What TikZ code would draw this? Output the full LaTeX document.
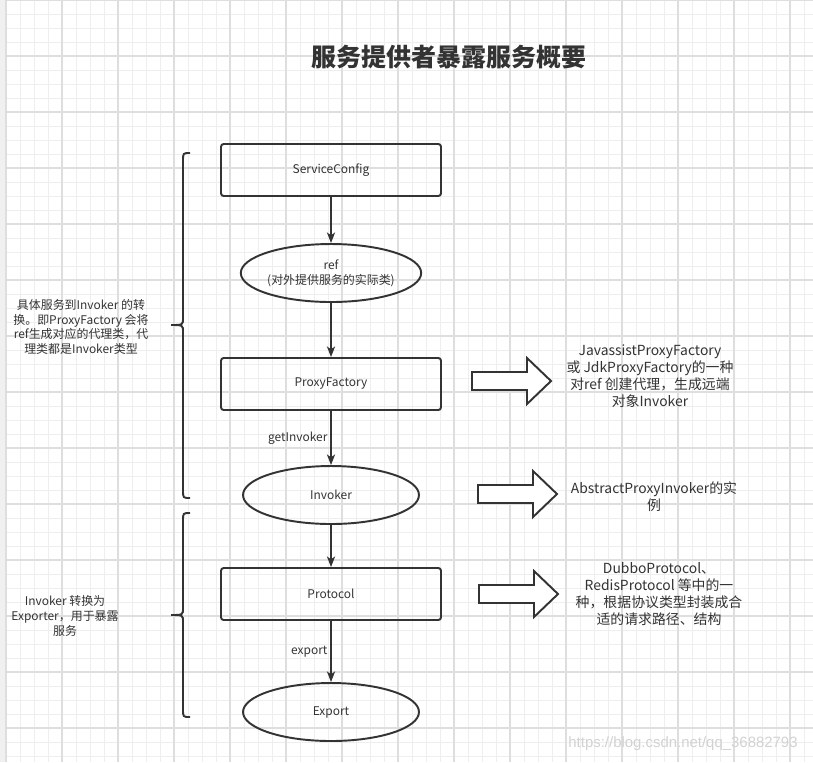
\documentclass[tikz,border=0pt]{standalone}
\usepackage{fontspec}
\setmainfont{Noto Sans CJK SC}
\newfontfamily\wmfont{Liberation Sans}
\usetikzlibrary{shapes.geometric,arrows.meta}
\definecolor{ink}{HTML}{333333}
\definecolor{gridminor}{HTML}{EEEEEE}
\definecolor{gridmajor}{HTML}{DEDEDE}
\definecolor{sidebar}{HTML}{F0F0F0}
\definecolor{wmgray}{HTML}{D2D2D2}
\tikzset{
  stage/.style={draw=ink, line width=1.1pt, rounded corners=1.5pt, minimum width=4.4cm,
    minimum height=1.04cm, text=ink, font=\fontsize{6.8}{8}\selectfont},
  obj/.style={ellipse, draw=ink, line width=1.1pt, minimum width=3.52cm, minimum height=1.16cm,
    inner sep=0pt, align=center, text=ink, font=\fontsize{6.8}{8.4}\selectfont},
  flow/.style={draw=ink, line width=1.1pt, -{Stealth[length=6pt,width=4.6pt,inset=1.6pt]}},
  flowlabel/.style={left, inner sep=1.5pt, text=ink, font=\fontsize{6.8}{8}\selectfont},
  brace/.style={draw=ink, line width=1.1pt},
  fatarrow/.style={draw=ink, line width=1.1pt, fill=white, line join=miter},
  note/.style={align=center, text=ink, font=\fontsize{7.9}{9.6}\selectfont},
  sidenote/.style={align=center, text=ink, font=\fontsize{6.8}{8.4}\selectfont}
}

\begin{document}
\begin{tikzpicture}[x=0.02cm, y=-0.02cm]
    \useasboundingbox (0,0) rectangle (813,762);
    % background grid
    \fill[white] (0,0) rectangle (813,762);
    \fill[sidebar] (0,0) rectangle (6,762);
    \foreach \k in {0,...,57} {
        \pgfmathsetmacro{\gx}{6+14*\k}
        \draw[gridminor, line width=0.5pt] (\gx,0) -- (\gx,762);
    }
    \foreach \k in {0,...,54} {
        \draw[gridminor, line width=0.5pt] (6,14*\k) -- (813,14*\k);
    }
    \foreach \k in {0,...,14} {
        \pgfmathsetmacro{\gx}{6+56*\k}
        \draw[gridmajor, line width=0.6pt] (\gx,0) -- (\gx,762);
    }
    \foreach \k in {0,...,13} {
        \draw[gridmajor, line width=0.6pt] (6,56*\k) -- (813,56*\k);
    }

    \node[text=ink, font=\fontsize{14.2}{16}\selectfont\bfseries] (title) at (449,57) {服务提供者暴露服务概要};

    \node[stage] (sc) at (331,170) {ServiceConfig};
    \node[obj] (ref) at (331,273) {ref\\(对外提供服务的实际类)};
    \node[stage] (pf) at (331,384) {ProxyFactory};
    \node[obj] (inv) at (331,495) {Invoker};
    \node[stage] (proto) at (331,594) {Protocol};
    \node[obj] (exp) at (331,712) {Export};

    \draw[flow] (sc) -- (ref);
    \draw[flow] (ref) -- (pf);
    \draw[flow] (pf) -- node[flowlabel] {getInvoker} (inv);
    \draw[flow] (inv) -- (proto);
    \draw[flow] (proto) -- node[flowlabel] {export} (exp);

    \foreach \t/\m/\b in {153/325/498, 513/615/717}
        \draw[brace] (190,\t) .. controls (183,\t) .. (183,\t+8) -- (183,\m-7)
            .. controls (183,\m) .. (171,\m) .. controls (183,\m) .. (183,\m+7)
            -- (183,\b-8) .. controls (183,\b) .. (190,\b);

    \node[sidenote] (why) at (81,327) {具体服务到Invoker 的转\\换。即ProxyFactory 会将\\ref生成对应的代理类，代\\理类都是Invoker类型};
    \node[sidenote] (how) at (65,616) {Invoker 转换为\\Exporter，用于暴露\\服务};

    \foreach \x/\y in {472/381, 478/494, 479/594}
        \draw[fatarrow] (\x,\y-9) -- (\x+55,\y-9) -- (\x+55,\y-23) -- (\x+79,\y)
            -- (\x+55,\y+23) -- (\x+55,\y+9) -- (\x,\y+9) -- cycle;

    \node[note] (pfnote) at (650,376) {JavassistProxyFactory\\或 JdkProxyFactory的一种\\对ref 创建代理，生成远端\\对象Invoker};
    \node[note] (invnote) at (654,497) {AbstractProxyInvoker的实\\例};
    \node[note] (protonote) at (659,594) {DubboProtocol、\\RedisProtocol 等中的一\\种，根据协议类型封装成合\\适的请求路径、结构};

    \node[text=wmgray, font=\wmfont\fontsize{8.5}{10}\selectfont] (wm) at (683,744) {https://blog.csdn.net/qq\_36882793};
\end{tikzpicture}
\end{document}
